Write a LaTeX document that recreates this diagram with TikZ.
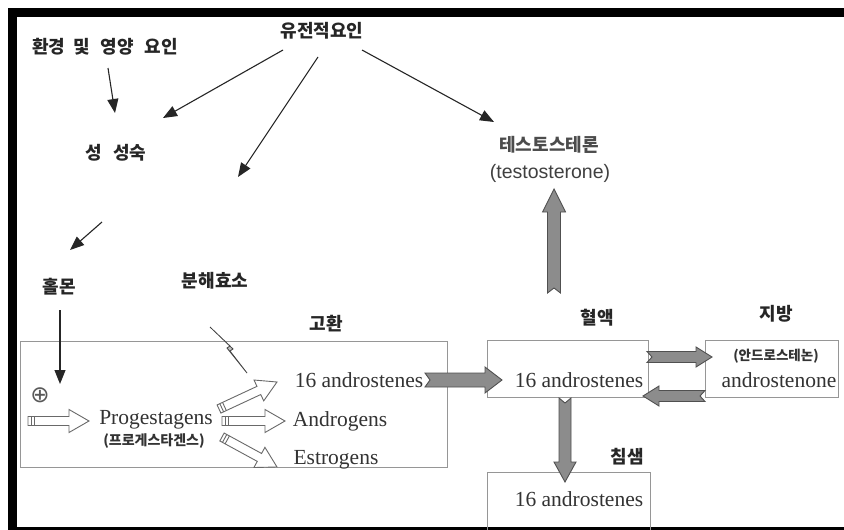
\documentclass[tikz,border=0pt]{standalone}
\usepackage{fontspec}
\setmainfont{Liberation Serif}
\newfontfamily\kr{Noto Sans CJK KR}
\newfontfamily\lsans{Liberation Sans}
\newfontfamily\dejavu{DejaVu Sans}
\usetikzlibrary{arrows.meta,calc}

\definecolor{fatfill}{RGB}{140,140,140}
\definecolor{fatline}{RGB}{80,80,80}
\definecolor{hollowline}{RGB}{105,105,105}
\definecolor{boxline}{RGB}{150,150,150}

\tikzset{
  arrshaft/.store in=\ashaft, arrhead/.store in=\ahead,
  arrheadlen/.store in=\aheadlen, arrnotch/.store in=\anotch,
  fatarrow/.style={fill=fatfill, draw=fatline, line width=0.9pt, line join=miter,
    arrshaft=6.5, arrhead=12, arrheadlen=18, arrnotch=5},
  hollowarrow/.style={fill=white, draw=hollowline, line width=0.9pt,
    arrshaft=4.5, arrhead=11.5, arrheadlen=20, arrnotch=0},
  kl/.style={inner sep=0pt, text=black!85, font=\kr\bfseries\fontsize{18}{21}\selectfont},
  krsmall/.style={inner sep=0pt, text=black!80, font=\kr\bfseries\fontsize{14}{16}\selectfont},
  lat/.style={inner sep=0pt, text=black!80, font=\fontsize{21.5}{24}\selectfont},
  thin/.style={draw=black!85, line width=1.1pt, -{Triangle[length=14pt,width=11pt]}},
  box/.style={draw=boxline, line width=1.2pt, fill=none, inner sep=0pt, anchor=north west},
  bolt/.style={fill=gray!50, draw=black!75, line width=0.8pt, line join=miter},
}

% block arrow from #2 to #3, looks given by style #1
\newcommand\blockarrow[3]{%
  \path[#1] let \p1=(#2), \p2=(#3),
      \n1={atan2(\y2-\y1,\x2-\x1)},
      \n2={veclen(\x2-\x1,\y2-\y1)-\aheadlen},
      \n3={\n1+90}, \n4={\n1-90} in
    ($(\p1)+(\n3:\ashaft pt)$)
    -- ($(\p1)+(\n3:\ashaft pt)+(\n1:\n2)$)
    -- ($(\p1)+(\n3:\ahead pt)+(\n1:\n2)$)
    -- (\p2)
    -- ($(\p1)+(\n4:\ahead pt)+(\n1:\n2)$)
    -- ($(\p1)+(\n4:\ashaft pt)+(\n1:\n2)$)
    -- ($(\p1)+(\n4:\ashaft pt)$)
    -- ($(\p1)+(\n1:\anotch pt)$) -- cycle;
}
% hollow arrow with two bars across its tail
\newcommand\hollowarrow[2]{%
  \blockarrow{hollowarrow}{#1}{#2}
  \path[hollowarrow, fill=none] let \p1=(#1), \p2=(#2),
      \n1={atan2(\y2-\y1,\x2-\x1)}, \n3={\n1+90}, \n4={\n1-90} in
    ($(\p1)+(\n1:3pt)+(\n3:\ashaft pt)$) -- ($(\p1)+(\n1:3pt)+(\n4:\ashaft pt)$)
    ($(\p1)+(\n1:6pt)+(\n3:\ashaft pt)$) -- ($(\p1)+(\n1:6pt)+(\n4:\ashaft pt)$);
}

\begin{document}
\begin{tikzpicture}[x=1pt,y=-1pt]
\useasboundingbox (0,0) rectangle (844,530);
\fill[white] (0,0) rectangle (844,530);

% outer frame
\draw[line width=9pt] (850,12.5) -- (12.5,12.5) -- (12.5,531);
\draw[line width=3pt] (12.5,528.5) -- (850,528.5);

% compartments
\node[box, minimum width=427pt, minimum height=126pt] (testisbox) at (20,341) {};
\node[box, minimum width=161pt, minimum height=57pt] (bloodbox) at (487,340) {};
\node[box, minimum width=133pt, minimum height=57pt] (fatbox) at (705,340) {};
\node[box, minimum width=163pt, minimum height=62pt] (salivabox) at (487,472) {};

% labels
\node[kl] (gen) at (322,31) {유전적요인};
\node[kl] (env) at (105,47)
  {환경\hspace{0.45em}및\hspace{0.6em}영양\hspace{0.6em}요인};
\node[kl] (mat) at (116,153) {성\hspace{0.6em}성숙};
\node[kl] (hormone) at (59,287) {홀몬};
\node[kl] (enzyme) at (215,281) {분해효소};
\node[kl] (testis) at (326,324) {고환};
\node[kl] (blood) at (597,318) {혈액};
\node[kl] (fat) at (776,314) {지방};
\node[kl] (saliva) at (627,457) {침샘};
\node[kl, text=black!70] (testoKo) at (549,145) {테스토스테론};
\node[inner sep=0pt, text=black!75, font=\lsans\fontsize{19.5}{22}\selectfont]
  (testoEn) at (550,173) {(testosterone)};

\node[lat] (prog) at (156,420) {Progestagens};
\node[krsmall] (progKo) at (154,441) {(프로게스타겐스)};
\node[lat] (andT) at (359,380) {16 androstenes};
\node[lat] (andro) at (340,421) {Androgens};
\node[lat] (estro) at (336,460) {Estrogens};
\node[lat] (andB) at (579,380) {16 androstenes};
\node[lat] (andS) at (579,499) {16 androstenes};
\node[krsmall, font=\kr\bfseries\fontsize{13.5}{15}\selectfont] (androKo) at (776,356) {(안드로스테논)};
\node[lat] (androEn) at (779,380) {androstenone};
\node[inner sep=0pt, text=black!65, font=\dejavu\fontsize{23}{23}\selectfont] (plus) at (40,395) {⊕};

% end points of the thin arrows
\coordinate (a1s) at (108,68);  \coordinate (a1e) at (115,113);
\coordinate (a2s) at (283,50);  \coordinate (a2e) at (163,118);
\coordinate (a3s) at (318,57);  \coordinate (a3e) at (238,177);
\coordinate (a4s) at (362,50);  \coordinate (a4e) at (494,122);
\coordinate (a5s) at (102,222); \coordinate (a5e) at (70,250);
\coordinate (a6s) at (60,310);  \coordinate (a6e) at (60,384);

\draw[thin] (a1s) -- (a1e);
\draw[thin] (a2s) -- (a2e);
\draw[thin] (a3s) -- (a3e);
\draw[thin] (a4s) -- (a4e);
\draw[thin] (a5s) -- (a5e);
\draw[thin] (a6s) -- (a6e);

% enzyme bolt
\draw[bolt] (210,327) -- (230,346) -- (227,348) -- (247,373) -- (230,351) -- (233,349) -- cycle;

% hollow arrows inside the testis
\coordinate (h1s) at (28,421);  \coordinate (h1e) at (89,421);
\coordinate (h2s) at (219,409); \coordinate (h2e) at (277,382);
\coordinate (h3s) at (222,421); \coordinate (h3e) at (285,421);
\coordinate (h4s) at (222,437); \coordinate (h4e) at (277,467);
\hollowarrow{h1s}{h1e}
\hollowarrow{h2s}{h2e}
\hollowarrow{h3s}{h3e}
\hollowarrow{h4s}{h4e}

% grey transport arrows
\coordinate (f1s) at (425,380); \coordinate (f1e) at (502,380);
\coordinate (f2s) at (647,357); \coordinate (f2e) at (712,357);
\coordinate (f3s) at (705,396); \coordinate (f3e) at (643,396);
\coordinate (f4s) at (565,398); \coordinate (f4e) at (565,482);
\coordinate (f5s) at (554,293); \coordinate (f5e) at (554,189);
\blockarrow{fatarrow, arrshaft=7, arrhead=13, arrheadlen=17}{f1s}{f1e}
\blockarrow{fatarrow, arrshaft=5.5, arrhead=10, arrheadlen=16}{f2s}{f2e}
\blockarrow{fatarrow, arrshaft=5.5, arrhead=10, arrheadlen=16}{f3s}{f3e}
\blockarrow{fatarrow, arrshaft=6, arrhead=11, arrheadlen=20}{f4s}{f4e}
\blockarrow{fatarrow, arrshaft=6.5, arrhead=11.5, arrheadlen=23}{f5s}{f5e}
\end{tikzpicture}
\end{document}
